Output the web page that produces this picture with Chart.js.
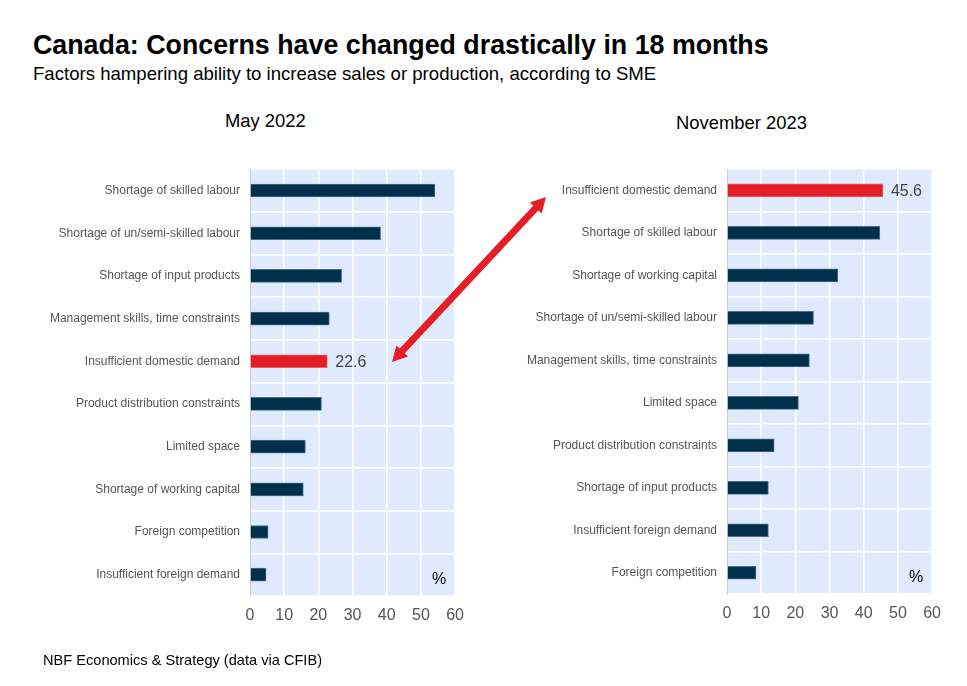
<!DOCTYPE html>
<html>
<head>
<meta charset="utf-8">
<script src="https://cdn.jsdelivr.net/npm/chart.js@4.4.0/dist/chart.umd.min.js"></script>
<style>
  body { margin: 0; background: #fff; font-family: "Liberation Sans", Arial, sans-serif; }
  #page { position: relative; width: 967px; height: 686px; overflow: hidden; }
  .txt { position: absolute; white-space: nowrap; color: #000; }
  #title { left: 33px; top: 30px; font-size: 26.8px; font-weight: bold; }
  #subtitle { left: 33px; top: 63px; font-size: 18.6px; }
  #panelL { left: 225px; top: 110px; font-size: 18.4px; }
  #panelR { left: 676px; top: 112px; font-size: 18.4px; }
  #footer { left: 43px; top: 652px; font-size: 14.6px; }
  .box { position: absolute; height: 478px; top: 152px; }
  #boxL { left: 0; width: 474px; }
  #boxR { left: 480px; width: 471px; height: 476px; }
  #overlay { position: absolute; left: 0; top: 0; pointer-events: none; }
</style>
</head>
<body>
<div id="page">
  <div class="txt" id="title">Canada: Concerns have changed drastically in 18 months</div>
  <div class="txt" id="subtitle">Factors hampering ability to increase sales or production, according to SME</div>
  <div class="txt" id="panelL">May 2022</div>
  <div class="txt" id="panelR">November 2023</div>
  <div class="box" id="boxL"><canvas id="chartMay"></canvas></div>
  <div class="box" id="boxR"><canvas id="chartNov"></canvas></div>
  <canvas id="overlay" width="967" height="686"></canvas>
  <div class="txt" id="footer">NBF Economics &amp; Strategy (data via CFIB)</div>
</div>
<script>
// May 2022
const mayLabels = ['Shortage of skilled labour', 'Shortage of un/semi-skilled labour', 'Shortage of input products',
  'Management skills, time constraints', 'Insufficient domestic demand', 'Product distribution constraints',
  'Limited space', 'Shortage of working capital', 'Foreign competition', 'Insufficient foreign demand'];
const mayValues = [54.1, 38.2, 26.8, 23.2, 22.6, 20.9, 16.2, 15.6, 5.3, 4.7];

// November 2023
const novLabels = ['Insufficient domestic demand', 'Shortage of skilled labour', 'Shortage of working capital',
  'Shortage of un/semi-skilled labour', 'Management skills, time constraints', 'Limited space',
  'Product distribution constraints', 'Shortage of input products', 'Insufficient foreign demand', 'Foreign competition'];
const novValues = [45.6, 44.7, 32.4, 25.3, 24.1, 20.9, 13.8, 12.1, 12.1, 8.5];

const xTicks = [0, 10, 20, 30, 40, 50, 60];
const highlight = 'Insufficient domestic demand';

const NAVY = '#002f4b';
const RED = '#e31e24';
const FONT = '"Liberation Sans", Arial, sans-serif';

const bgPlugin = {
    id: 'bgFill',
    beforeDraw(chart) {
        const a = chart.chartArea;
        const ctx = chart.ctx;
        ctx.save();
        ctx.fillStyle = '#dfeafc';
        ctx.fillRect(a.left, a.top, a.right - a.left, a.bottom - a.top);
        ctx.restore();
    }
};

const extrasPlugin = {
    id: 'extras',
    afterDatasetsDraw(chart) {
        const ctx = chart.ctx;
        const a = chart.chartArea;
        const meta = chart.getDatasetMeta(0);
        ctx.save();
        ctx.font = '16px ' + FONT;
        ctx.textBaseline = 'middle';
        // value label on highlighted bar
        chart.data.labels.forEach((lab, i) => {
            if (lab === highlight) {
                const bar = meta.data[i];
                ctx.fillStyle = '#444';
                ctx.textAlign = 'left';
                ctx.fillText(chart.data.datasets[0].data[i].toFixed(1), bar.x + 8, bar.y + 1);
            }
        });
        // unit sign
        ctx.fillStyle = '#000';
        ctx.textAlign = 'right';
        ctx.fillText('%', a.right - 9, a.bottom - 16);
        ctx.restore();
    }
};

function makeChart(id, labels, values, yWidth) {
    return new Chart(document.getElementById(id), {
        type: 'bar',
        data: {
            labels: labels,
            datasets: [{
                data: values,
                backgroundColor: labels.map(l => l === highlight ? RED : NAVY),
                borderColor: labels.map(l => l === highlight ? '#e8606a' : '#4d6c88'),
                borderWidth: 1,
                borderSkipped: 'left',
                barThickness: 13
            }]
        },
        options: {
            indexAxis: 'y',
            responsive: true,
            maintainAspectRatio: false,
            animation: false,
            layout: { padding: 0 },
            plugins: {
                legend: { display: false },
                tooltip: { enabled: false }
            },
            scales: {
                x: {
                    min: 0,
                    max: 60,
                    afterBuildTicks: s => { s.ticks = xTicks.map(v => ({ value: v })); },
                    afterFit: s => { s.height = 34; },
                    grid: { color: '#ffffff', lineWidth: 1.5, drawTicks: false },
                    border: { display: false },
                    ticks: { color: '#555', font: { size: 16, family: FONT }, padding: 10 }
                },
                y: {
                    afterFit: s => { s.width = yWidth; },
                    grid: { offset: true, color: '#ffffff', lineWidth: 1.5, drawTicks: false },
                    border: { display: true, color: '#cccccc', width: 1 },
                    ticks: { color: '#555', font: { size: 12, family: FONT }, padding: 10 }
                }
            }
        },
        plugins: [bgPlugin, extrasPlugin]
    });
}

makeChart('chartMay', mayLabels, mayValues, 250);
makeChart('chartNov', novLabels, novValues, 247);

// double-headed arrow linking the two positions
(function drawArrow() {
    const ctx = document.getElementById('overlay').getContext('2d');
    const x1 = 392, y1 = 362, x2 = 546, y2 = 197;
    const ang = Math.atan2(y2 - y1, x2 - x1);
    const head = 15, hw = 8;
    ctx.fillStyle = RED;
    ctx.strokeStyle = RED;
    ctx.lineWidth = 7;
    ctx.beginPath();
    ctx.moveTo(x1 + Math.cos(ang) * head * 0.8, y1 + Math.sin(ang) * head * 0.8);
    ctx.lineTo(x2 - Math.cos(ang) * head * 0.8, y2 - Math.sin(ang) * head * 0.8);
    ctx.stroke();
    function tip(x, y, a) {
        ctx.beginPath();
        ctx.moveTo(x, y);
        ctx.lineTo(x - Math.cos(a) * head + Math.sin(a) * hw, y - Math.sin(a) * head - Math.cos(a) * hw);
        ctx.lineTo(x - Math.cos(a) * head - Math.sin(a) * hw, y - Math.sin(a) * head + Math.cos(a) * hw);
        ctx.closePath();
        ctx.fill();
    }
    tip(x2, y2, ang);
    tip(x1, y1, ang + Math.PI);
})();
</script>
</body>
</html>
